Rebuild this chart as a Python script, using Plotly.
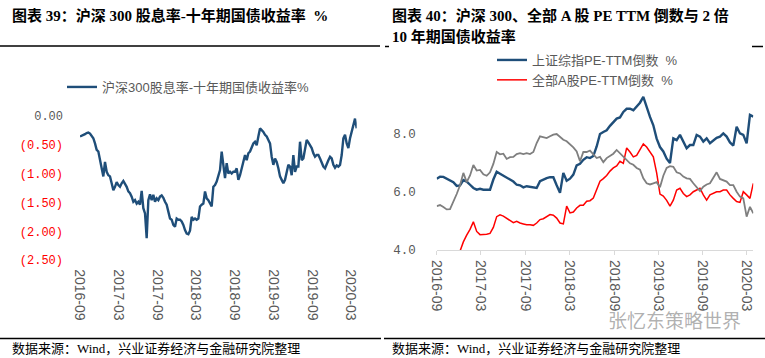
import plotly.graph_objects as go
import pandas as pd

W, H = 765, 358

# ---------------- data: left chart ----------------
left_start, left_end = "2016-09-01", "2020-03-29"
left_name = "沪深300股息率-十年期国债收益率%"
left_spread = [
    -0.36, -0.35, -0.33, -0.32, -0.30, -0.29, -0.31, -0.35, -0.39, -0.48,
    -0.59, -0.62, -0.77, -0.91, -1.05, -0.80, -0.97, -1.03, -1.05, -1.17,
    -1.29, -1.23, -1.15, -1.20, -1.23, -1.17, -1.13, -1.18, -1.23, -1.31,
    -1.34, -1.40, -1.49, -1.46, -1.52, -1.49, -1.54, -1.30, -1.60, -1.69,
    -2.12, -1.46, -1.36, -1.46, -1.37, -1.49, -1.43, -1.46, -1.40, -1.38,
    -1.42, -1.49, -1.54, -1.66, -1.78, -1.80, -1.89, -1.92, -1.78, -1.80,
    -1.80, -1.83, -1.89, -1.98, -2.04, -2.05, -1.99, -1.75, -1.80, -1.78,
    -1.80, -1.78, -1.57, -1.54, -1.52, -1.31, -1.43, -1.46, -1.52, -1.57,
    -1.23, -1.20, -1.14, -1.05, -0.94,
    -0.62, -0.88, -1.08, -0.82, -1.00, -0.97, -1.00, -0.97, -0.97, -0.91,
    -1.11, -1.03, -0.91, -0.82, -0.68, -0.77, -0.65, -0.62, -0.54, -0.48,
    -0.45, -0.51, -0.36, -0.22, -0.25, -0.28, -0.33, -0.36, -0.42, -0.48,
    -0.71, -0.85, -0.74, -0.80, -0.91, -1.05, -1.11, -1.17, -1.11, -0.97,
    -0.85, -0.88, -1.03, -0.68, -0.97, -0.88, -0.88, -0.45, -0.77, -0.74,
    -0.54, -0.42, -0.46, -0.51, -0.56, -0.65, -0.71, -0.68, -0.68, -0.74,
    -0.80, -0.88, -0.91, -0.82, -0.77, -0.71, -0.74, -0.85, -0.90, -0.86,
    -0.88, -0.85, -0.68, -0.39, -0.33, -0.48, -0.56, -0.39, -0.28, -0.13,
    -0.05, -0.22,
]

# ---------------- data: right chart ----------------
right_start, right_end = "2016-09-01", "2020-03-27"
sh_name = "上证综指PE-TTM倒数\u00a0\u00a0%"
all_a_name = "全部A股PE-TTM倒数\u00a0\u00a0%"
sh_pe_inv = [
    6.46, 6.53, 6.52, 6.46, 6.40, 6.34, 6.21, 6.23, 6.41, 6.36, 6.25, 6.14,
    6.08, 6.11, 6.08, 6.09, 6.08, 6.43, 6.70, 6.63, 6.57, 6.51, 6.43, 6.36,
    6.25, 6.23, 6.16, 6.20, 6.18, 6.17, 6.14, 6.37, 6.43, 6.48, 6.51, 6.51,
    6.23, 5.97, 6.66, 6.39, 6.46, 6.60, 6.92, 6.97, 7.11, 7.20, 7.17,
    7.24, 7.57, 8.00, 8.07, 8.13, 8.28, 8.41, 8.53, 8.57, 8.76, 8.87, 8.87,
    8.82, 8.94, 9.08, 9.28, 8.92, 8.59, 8.30, 7.84, 7.55, 7.40, 7.15, 7.00,
    7.85, 7.79, 7.97, 7.74, 7.51, 7.62, 7.62, 7.97, 7.91, 7.74, 7.85, 7.68,
    7.79, 7.87, 7.91, 8.02, 7.91, 7.71, 7.60, 8.25, 8.02, 7.97, 7.68, 8.66, 8.60,
]
all_a_pe_inv = [
    None, None, None, None, None, None, None, 3.96, 4.28, 4.51, 4.71, 4.97,
    4.64, 4.53, 4.53, 4.54, 4.57, 4.78, 5.15, 5.21, 5.17, 5.09, 5.02, 4.94,
    4.99, 4.93, 4.90, 4.87, 4.87, 4.85, 4.93, 5.05, 5.08, 5.16, 5.22, 5.20,
    5.10, 4.93, 4.90, 5.51, 5.28, 5.31, 5.45, 5.54, 5.54, 5.68, 5.70,
    5.79, 6.05, 6.37, 6.46, 6.57, 6.72, 6.83, 6.90, 7.06, 6.99, 7.52, 7.38,
    7.21, 7.26, 7.48, 7.66, 7.55, 7.39, 7.21, 6.66, 5.93, 5.86, 5.71, 5.51,
    5.72, 6.07, 6.13, 5.95, 5.84, 5.90, 6.01, 6.07, 6.13, 5.90, 5.72, 5.90,
    5.95, 6.01, 6.01, 6.07, 6.07, 5.90, 5.78, 5.67, 5.64, 6.01, 5.90, 5.78, 6.30,
]
bond_10y_2x = [
    5.51, 5.55, 5.48, 5.40, 5.41, 5.66, 5.93, 6.23, 6.66, 6.34, 6.57, 6.93,
    6.74, 6.76, 6.61, 6.56, 6.68, 6.97, 7.38, 7.30, 7.32, 7.14, 7.20, 7.21,
    7.31, 7.34, 7.31, 7.34, 7.31, 7.38, 7.69, 7.92, 7.89, 7.86, 7.92, 7.98,
    8.00, 7.89, 7.80, 7.75, 7.66, 7.54, 7.40, 7.06, 7.38, 7.38, 7.43,
    7.29, 7.17, 7.21, 7.03, 7.17, 7.25, 7.32, 7.45, 7.33, 7.22, 7.09, 6.99,
    6.94, 6.83, 6.77, 6.47, 6.30, 6.26, 6.30, 6.34, 6.16, 6.56, 6.83, 6.89,
    6.87, 6.68, 6.64, 6.53, 6.47, 6.45, 6.30, 6.18, 6.03, 6.18, 6.26, 6.30,
    6.47, 6.68, 6.45, 6.41, 6.36, 6.24, 6.24, 6.01, 5.84, 5.78, 5.15, 5.49, 5.26,
]

# ---------------- ticks ----------------
tick_dates = ["2016-09-01", "2017-03-01", "2017-09-01", "2018-03-01",
              "2018-09-01", "2019-03-01", "2019-09-01", "2020-03-01"]
tick_labels = ["2016-09", "2017-03", "2017-09", "2018-03",
               "2018-09", "2019-03", "2019-09", "2020-03"]
left_yticks = [0, -0.5, -1.0, -1.5, -2.0, -2.5]
left_ylabels = ["0.00", "(0.50)", "(1.00)", "(1.50)", "(2.00)", "(2.50)"]
right_yticks = [4, 6, 8]
right_ylabels = ["4.0", "6.0", "8.0"]

# ---------------- styles ----------------
BLUE = "#1F4E79"
RED = "#FF0000"
GRAY = "#7F7F7F"
AXIS = "#D9D9D9"
TXT = "#595959"
SANS = "Liberation Sans, Noto Sans CJK SC, sans-serif"
SERIF = "Liberation Serif, Noto Sans CJK SC, serif"
MONO = "Liberation Mono, DejaVu Sans Mono, monospace"


def fx(px):
    return px / W


def fy(py):
    return 1 - py / H


left_dates = pd.date_range(left_start, left_end, periods=len(left_spread))
right_dates = pd.date_range(right_start, right_end, periods=len(sh_pe_inv))

fig = go.Figure()
fig.add_trace(go.Scatter(x=left_dates, y=left_spread, mode="lines", name=left_name,
                         line=dict(color=BLUE, width=2.4), xaxis="x", yaxis="y",
                         legend="legend"))
fig.add_trace(go.Scatter(x=right_dates, y=sh_pe_inv, mode="lines", name=sh_name,
                         line=dict(color=BLUE, width=2.4), xaxis="x2", yaxis="y2",
                         legend="legend2"))
fig.add_trace(go.Scatter(x=right_dates, y=all_a_pe_inv, mode="lines", name=all_a_name,
                         line=dict(color=RED, width=1.5), xaxis="x2", yaxis="y2",
                         legend="legend2"))
fig.add_trace(go.Scatter(x=right_dates, y=bond_10y_2x, mode="lines", name="2倍10年期国债收益率",
                         line=dict(color=GRAY, width=1.8), xaxis="x2", yaxis="y2",
                         showlegend=False))

left_ytext = [l if v == 0 else "<span style='color:#FF0000'>%s</span>" % l
              for v, l in zip(left_yticks, left_ylabels)]

fig.update_layout(
    width=W, height=H, margin=dict(l=0, r=0, t=0, b=0, pad=0, autoexpand=False),
    paper_bgcolor="white", plot_bgcolor="white",
    xaxis=dict(domain=[fx(80), fx(356.7)], type="date", range=[left_start, left_end],
               tickvals=tick_dates, ticktext=tick_labels, tickangle=90,
               tickfont=dict(family=SANS, size=14, color=TXT),
               showline=False, ticks="", showgrid=False, zeroline=False,
               ticklabelstandoff=8, anchor="y", automargin=False),
    xaxis3=dict(overlaying="x", side="top", type="date", range=[left_start, left_end],
                tickvals=tick_dates, showticklabels=False, ticks="inside",
                ticklen=4, tickcolor=AXIS, showline=True, linecolor=AXIS, linewidth=1.3,
                showgrid=False, zeroline=False, anchor="y", automargin=False),
    yaxis=dict(domain=[fy(260.2), fy(115.7)], range=[-2.5, 0],
               tickvals=left_yticks, ticktext=left_ytext,
               tickfont=dict(family=MONO, size=12, color=TXT),
               showline=False, ticks="", showgrid=False, zeroline=False,
               ticklabelstandoff=16, anchor="x", automargin=False),
    xaxis2=dict(domain=[fx(436.7), fx(753.3)], type="date", range=[right_start, right_end],
                tickvals=tick_dates, ticktext=tick_labels, tickangle=90,
                tickfont=dict(family=SANS, size=14, color=TXT),
                showline=True, linecolor=AXIS, linewidth=1.3, ticks="outside",
                ticklen=4, tickcolor=AXIS, showgrid=False, zeroline=False,
                ticklabelstandoff=2, anchor="y2", automargin=False),
    yaxis2=dict(domain=[fy(250), fy(90.5)], range=[4, 9.5],
                tickvals=right_yticks, ticktext=right_ylabels,
                tickfont=dict(family=MONO, size=12.5, color=TXT),
                showline=False, ticks="", showgrid=False, zeroline=False,
                ticklabelstandoff=20, anchor="x2", automargin=False),
    legend=dict(x=fx(62), y=fy(72), xanchor="left", yanchor="top",
                font=dict(family=SANS, size=13, color=TXT), bgcolor="rgba(0,0,0,0)",
                itemwidth=30, tracegroupgap=0),
    legend2=dict(x=fx(492), y=fy(45), xanchor="left", yanchor="top",
                 font=dict(family=SANS, size=13, color=TXT), bgcolor="rgba(0,0,0,0)",
                 itemwidth=30, tracegroupgap=0),
)

annotations = [
    dict(text="<b>图表 39：沪深 300 股息率-十年期国债收益率  %</b>", x=fx(10), y=fy(15)),
    dict(text="<b>图表 40：沪深 300、全部 A 股 PE TTM 倒数与 2 倍</b>", x=fx(390), y=fy(16)),
    dict(text="<b>10 年期国债收益率</b>", x=fx(390), y=fy(36)),
]
for a in annotations:
    fig.add_annotation(xref="paper", yref="paper", xanchor="left", yanchor="middle",
                       showarrow=False, font=dict(family=SERIF, size=15, color="black"), **a)

for sx in (10, 390):
    fig.add_annotation(text="数据来源：Wind，兴业证券经济与金融研究院整理",
                       xref="paper", yref="paper", x=fx(sx), y=fy(348),
                       xanchor="left", yanchor="middle", showarrow=False,
                       font=dict(family=SERIF, size=13, color="black"))

fig.add_annotation(text="张忆东策略世界", xref="paper", yref="paper",
                   x=fx(674), y=fy(321), xanchor="center", yanchor="middle",
                   showarrow=False, font=dict(family=SANS, size=19, color="rgba(110,110,110,0.55)"))

rules = [
    (0, 380, 46), (385, 389, 46.5), (752, 763, 46.5),
    (0, 381, 338.5), (384, 765, 338.5),
]
for x0, x1, yy in rules:
    fig.add_shape(type="line", xref="paper", yref="paper",
                  x0=fx(x0), x1=fx(x1), y0=fy(yy), y1=fy(yy),
                  line=dict(color="black", width=1.5))

fig.write_html("out.html", config={"displayModeBar": False},
               post_script="document.body.style.margin='0px';"
                           "document.body.style.overflow='hidden';")
